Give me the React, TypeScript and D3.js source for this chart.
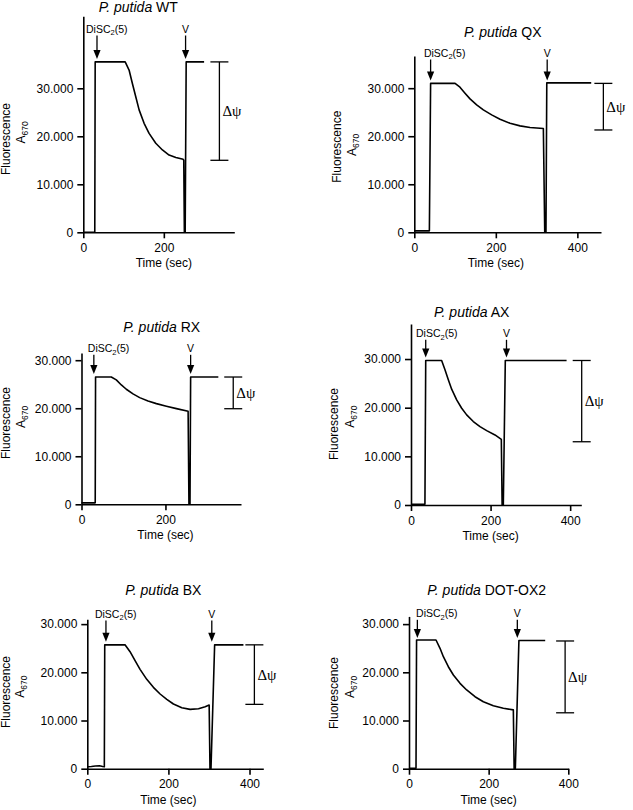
import React, { useEffect, useRef } from "react";
import * as d3 from "d3";

// ---------- DATA ----------
const STRAINS = ["WT", "QX", "RX", "AX", "BX", "DOT-OX2"];

const WT_TIME = [0, 28.5, 29.5, 104, 113.7, 121.9, 130.3, 138.6, 151, 163.4, 180, 196.5, 213, 229.9, 248, 249.5, 251, 253, 255.5, 300];
const WT_FLUOR = [0, 0, 35500, 35500, 33800, 31000, 28250, 25500, 22700, 20600, 18550, 17150, 16100, 15600, 15200, 15000, 0, 0, 35500, 35500];

const QX_TIME = [0, 37, 40, 100, 112, 124.4, 136.7, 153, 169.4, 189.8, 210.3, 234.8, 259.4, 283.9, 316.6, 320, 323, 325, 434];
const QX_FLUOR = [300, 300, 31000, 31000, 30200, 28960, 27770, 26520, 25480, 24440, 23540, 22700, 22150, 21800, 21600, 0, 0, 31100, 31100];

const RX_TIME = [0, 32.7, 33.5, 71, 82.9, 94.9, 106.8, 122.7, 138.6, 158.5, 178.4, 202.3, 226.2, 254, 256, 258.5, 260, 326];
const RX_FLUOR = [300, 300, 26500, 26500, 25900, 24850, 23950, 22980, 22210, 21520, 20960, 20420, 19920, 19380, 0, 0, 26500, 26500];

const AX_TIME = [0, 35, 37, 77, 85.4, 93.8, 102.2, 114.8, 127.4, 139.9, 156.6, 173.4, 190.2, 211.1, 227, 229, 232, 237, 391];
const AX_FLUOR = [150, 150, 29700, 29700, 27780, 25720, 23800, 21600, 19890, 18520, 17150, 16120, 15290, 14400, 13500, 0, 0, 29700, 29700];

const BX_TIME = [0, 10, 20, 30, 38, 42, 43, 93, 105.4, 117.8, 130.1, 146.6, 163, 179.5, 196, 212.4, 233, 253.6, 274.2, 290.6, 300.5, 302.5, 305, 314, 385];
const BX_FLUOR = [400, 450, 550, 600, 450, 400, 25700, 25700, 24280, 22410, 20620, 18540, 16880, 15500, 14390, 13420, 12660, 12310, 12450, 12860, 13200, 0, 0, 25700, 25700];

const DOT_TIME = [0, 17.6, 19, 67.8, 77.9, 86.3, 98.8, 111.4, 128.1, 144.8, 165.8, 186.7, 211.8, 236.9, 262, 264, 267, 276, 342];
const DOT_FLUOR = [100, 100, 26700, 26700, 24980, 23240, 21160, 19440, 17710, 16330, 14940, 13900, 13070, 12530, 12200, 0, 0, 26600, 26600];

const TIMES = [WT_TIME, QX_TIME, RX_TIME, AX_TIME, BX_TIME, DOT_TIME];
const FLUORS = [WT_FLUOR, QX_FLUOR, RX_FLUOR, AX_FLUOR, BX_FLUOR, DOT_FLUOR];

const X_TICKS = [0, 200, 400];
const Y_TICKS = [0, 10000, 20000, 30000];
const X_MAX = [375, 458, 380, 428, 434, 400];
const Y_MAX = [45000, 36700, 31500, 37200, 31000, 31600];

const DISC_TIMES = [34, 40, 29.4, 37, 46, 21];
const V_TIMES = [254, 326, 260, 240, 307, 272];
const PSI_TIME = [338, 463.8, 361.5, 429, 412, 392];
const PSI_TOP = [35500, 31000, 26500, 29700, 25700, 26500];
const PSI_BOTTOM = [15000, 21300, 19900, 13000, 13350, 11600];

// ---------- LAYOUT (pixels) ----------
const LAYOUT = [
  { x0: 83.3, x1: 234.3, y0: 232.3, y1: 16.3, titleX: 138.3, titleY: 11.5, labelY: 29, fluoX: 6, fluoY: 139, aX: 20.5, aY: 132.5, discDx: -11 },
  { x0: 414.3, x1: 601, y0: 232.3, y1: 56, titleX: 502.7, titleY: 37, labelY: 53, fluoX: 336.7, fluoY: 146.7, aX: 351.7, aY: 145, discDx: -6.7 },
  { x0: 81.5, x1: 241, y0: 504.3, y1: 353, titleX: 161.7, titleY: 331.5, labelY: 348.3, fluoX: 6, fluoY: 423, aX: 20.5, aY: 417, discDx: -6 },
  { x0: 411, x1: 581.3, y0: 505, y1: 324, titleX: 471.7, titleY: 316.5, labelY: 333.3, fluoX: 334, fluoY: 424, aX: 349.3, aY: 416.7, discDx: -9.7 },
  { x0: 87.3, x1: 263.3, y0: 768.7, y1: 619.3, titleX: 163.3, titleY: 595, labelY: 614, fluoX: 6, fluoY: 692, aX: 19.5, aY: 686.7, discDx: -11 },
  { x0: 409, x1: 568.3, y0: 768.7, y1: 616.4, titleX: 486.7, titleY: 595, labelY: 613.3, fluoX: 334, fluoY: 693, aX: 349.3, aY: 687, discDx: -1.3 },
];

const SANS = "'Liberation Sans', Arial, Helvetica, sans-serif";
const SERIF = "'Liberation Serif', 'Times New Roman', serif";
const LW = 1.6;

const locale = d3.formatLocale({ decimal: ",", thousands: ".", grouping: [3], currency: ["", ""] });
const fmtY = locale.format(",.0f");

function Arrow({ x, yTop, yTip }: { x: number; yTop: number; yTip: number }) {
  const hw = 3.6, hh = 9;
  return (
    <g>
      <line x1={x} x2={x} y1={yTop} y2={yTip - hh + 1} stroke="#000" strokeWidth={1.3} />
      <path d={`M${x - hw},${yTip - hh} L${x + hw},${yTip - hh} L${x},${yTip} Z`} fill="#000" />
    </g>
  );
}

function Panel({ i }: { i: number }) {
  const L = LAYOUT[i];
  const xAxisRef = useRef<SVGGElement>(null);
  const yAxisRef = useRef<SVGGElement>(null);

  const x = d3.scaleLinear().domain([0, X_MAX[i]]).range([L.x0, L.x1]);
  const y = d3.scaleLinear().domain([0, Y_MAX[i]]).range([L.y0, L.y1]);

  useEffect(() => {
    const xa = d3
      .axisBottom(x)
      .tickValues(X_TICKS.filter((t) => t <= X_MAX[i]))
      .tickFormat(d3.format("d") as any)
      .tickSize(6)
      .tickSizeOuter(0)
      .tickPadding(5);
    const ya = d3
      .axisLeft(y)
      .tickValues(Y_TICKS)
      .tickFormat((d: any) => fmtY(d))
      .tickSize(6)
      .tickSizeOuter(0)
      .tickPadding(4);
    const gx = d3.select(xAxisRef.current!);
    gx.call(xa as any);
    const gy = d3.select(yAxisRef.current!);
    gy.call(ya as any);
    [gx, gy].forEach((g) => {
      g.attr("font-family", SANS).attr("font-size", 12);
      g.selectAll("path,line").attr("stroke", "#000").attr("stroke-width", LW);
      g.selectAll("text").attr("fill", "#000");
    });
  }, [i]);

  const line = d3
    .line<number>()
    .x((_, k) => x(TIMES[i][k]))
    .y((v) => y(v));

  const plateauY = y(PSI_TOP[i]);
  const discX = x(DISC_TIMES[i]);
  const vX = x(V_TIMES[i]);
  const psiX = x(PSI_TIME[i]);
  const psiTop = y(PSI_TOP[i]);
  const psiBot = y(PSI_BOTTOM[i]);
  const arrowTop = L.labelY + 6.5;
  const arrowTip = plateauY - 3;
  const tick200 = x(200);

  return (
    <g>
      <text x={L.titleX} y={L.titleY} textAnchor="middle" fontFamily={SANS} fontSize={14} fill="#000">
        <tspan fontStyle="italic">P. putida</tspan>
        <tspan> {STRAINS[i]}</tspan>
      </text>

      <path d={line(FLUORS[i]) || ""} fill="none" stroke="#000" strokeWidth={LW} strokeLinejoin="round" />

      <g ref={xAxisRef} transform={`translate(0,${L.y0})`} />
      <g ref={yAxisRef} transform={`translate(${L.x0},0)`} />

      <text x={tick200} y={L.y0 + 35} textAnchor="middle" fontFamily={SANS} fontSize={12} fill="#000">
        Time (sec)
      </text>

      <text
        transform={`translate(${L.fluoX + 4.3},${L.fluoY}) rotate(-90)`}
        textAnchor="middle"
        fontFamily={SANS}
        fontSize={12}
        fill="#000"
      >
        Fluorescence
      </text>
      <text
        transform={`translate(${L.aX + 4.3},${L.aY}) rotate(-90)`}
        textAnchor="middle"
        fontFamily={SANS}
        fontSize={12}
        fill="#000"
      >
        <tspan>A</tspan>
        <tspan fontSize={8.5} dy={3}>670</tspan>
      </text>

      <text x={discX + L.discDx} y={L.labelY + 3.7} fontFamily={SANS} fontSize={10.5} fill="#000">
        <tspan>DiSC</tspan>
        <tspan fontSize={7.5} dy={2.5}>2</tspan>
        <tspan dy={-2.5}>(5)</tspan>
      </text>
      <Arrow x={discX} yTop={arrowTop} yTip={arrowTip} />

      <text x={vX} y={L.labelY + 3.7} textAnchor="middle" fontFamily={SANS} fontSize={10.5} fill="#000">
        V
      </text>
      <Arrow x={vX} yTop={arrowTop} yTip={arrowTip} />

      <g stroke="#000" strokeWidth={1.3}>
        <line x1={psiX} x2={psiX} y1={psiTop} y2={psiBot} />
        <line x1={psiX - 9} x2={psiX + 9} y1={psiTop} y2={psiTop} />
        <line x1={psiX - 9} x2={psiX + 9} y1={psiBot} y2={psiBot} />
      </g>
      <text
        x={psiX + 3}
        y={(psiTop + psiBot) / 2 + 5}
        fontFamily={SERIF}
        fontSize={15}
        fill="#000"
      >
        Δψ
      </text>
    </g>
  );
}

export default function App() {
  return (
    <svg
      width={633}
      height={810}
      viewBox="0 0 633 810"
      style={{ position: "absolute", left: 0, top: 0, background: "#fff" }}
    >
      <rect x={0} y={0} width={633} height={810} fill="#fff" />
      {STRAINS.map((_, i) => (
        <Panel key={i} i={i} />
      ))}
    </svg>
  );
}
